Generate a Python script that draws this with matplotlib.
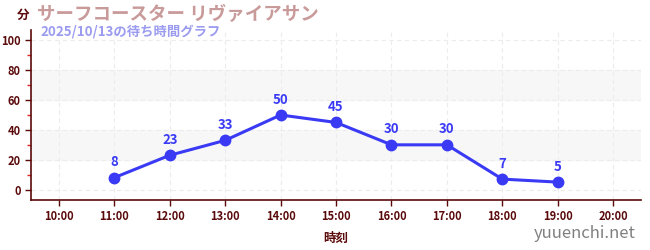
import matplotlib
matplotlib.use("Agg")
import matplotlib.pyplot as plt

plt.rcParams['font.family'] = ['Noto Sans CJK JP', 'DejaVu Sans']

hours = ["10:00", "11:00", "12:00", "13:00", "14:00", "15:00",
         "16:00", "17:00", "18:00", "19:00", "20:00"]
wait_hours = ["11:00", "12:00", "13:00", "14:00", "15:00",
              "16:00", "17:00", "18:00", "19:00"]
wait_minutes = [8, 23, 33, 50, 45, 30, 30, 7, 5]

title = "サーフコースター リヴァイアサン"
subtitle = "2025/10/13の待ち時間グラフ"

axis_col = "#5a0a0a"
line_col = "#3a3af5"

fig = plt.figure(figsize=(6.5, 2.5), dpi=100)
ax = fig.add_axes([0.048, 0.2, 0.938, 0.68])

x_all = list(range(len(hours)))
xs = [hours.index(h) for h in wait_hours]

# background bands
for lo in (20, 60):
    ax.axhspan(lo, lo + 20, color="#f7f7f7", zorder=0)

ax.plot(xs, wait_minutes, color=line_col, lw=2.2, marker="o", ms=7.5, zorder=3)
for x, v in zip(xs, wait_minutes):
    ax.annotate(str(v), (x, v), xytext=(0, 6), textcoords="offset points",
                ha="center", va="bottom", color=line_col, fontsize=9.5,
                fontweight="bold")

ax.set_xlim(-0.5, 10.5)
ax.set_ylim(-7, 107)
ax.set_xticks(x_all)
ax.set_xticklabels(hours)
ax.set_yticks(range(0, 101, 20))
ax.set_yticks(range(10, 100, 20), minor=True)

ax.grid(True, which="major", color="#ececec", ls=(0, (4, 3)), lw=0.8)
ax.set_axisbelow(True)

for s in ("top", "right"):
    ax.spines[s].set_visible(False)
for s in ("left", "bottom"):
    ax.spines[s].set_color(axis_col)
    ax.spines[s].set_linewidth(1.2)

ax.tick_params(axis="both", which="major", colors=axis_col, labelsize=8,
               length=4, width=1)
ax.tick_params(axis="y", which="minor", colors="#dd2222", length=3, width=1)
for lab in ax.get_xticklabels() + ax.get_yticklabels():
    lab.set_fontweight("bold")

ax.set_xlabel("時刻", color=axis_col, fontsize=9, fontweight="bold", labelpad=6)

fig.text(0.036, 0.94, "分", color=axis_col, fontsize=9, fontweight="bold",
         ha="center", va="center")
fig.text(0.057, 0.94, title, color="#c99a9a", fontsize=13.3, fontweight="bold",
         ha="left", va="center")
fig.text(0.062, 0.872, subtitle, color="#9b9bf0", fontsize=9.6,
         fontweight="bold", ha="left", va="center")
fig.text(0.978, 0.065, "yuuenchi.net", color="#808080", fontsize=12,
         ha="right", va="center")

fig.savefig("out.png", dpi=100)
